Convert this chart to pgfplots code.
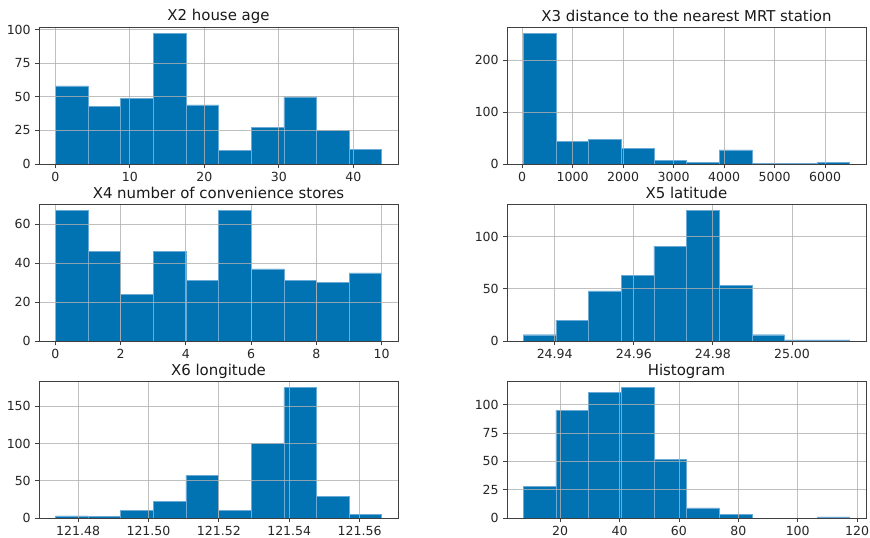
\documentclass[border=0pt]{standalone}
\usepackage{fontspec}
\setmainfont{DejaVu Sans}
\usepackage{pgfplots}
\pgfplotsset{compat=1.18}
\definecolor{barblue}{HTML}{0173B2}
\definecolor{baredge}{HTML}{6AAAD6}
\definecolor{gridc}{HTML}{B0B0B0}
\definecolor{spine}{HTML}{404040}
\pgfplotsset{
  hstyle/.style={
    scale only axis,
    width=269.25pt, height=102.75pt,
    anchor=south west,
    axis on top,
    grid=major,
    grid style={color=gridc, line width=0.6pt, opacity=0.8},
    axis line style={color=spine, line width=0.6pt},
    tick style={color=spine, line width=0.6pt},
    tick align=outside,
    major tick length=3.2pt,
    xtick pos=bottom, ytick pos=left,
    /pgf/number format/assume math mode=true,
    /pgf/number format/set thousands separator={},
    tick label style={font=\fontsize{9.4}{10}\selectfont, color=black!85},
    xticklabel style={yshift=0.5pt},
    yticklabel style={xshift=0.5pt},
    every axis title shift=0pt,
    title style={font=\fontsize{11.2}{12}\selectfont, color=black!90, at={(0.5,1)}, anchor=base, yshift=4.5pt, inner sep=0pt},
    ymin=0,
    scaled ticks=false,
  },
  hbar/.style={ybar interval, fill=barblue, draw=baredge, line width=0.3pt},
}
\begin{document}
\begin{tikzpicture}
\path[use as bounding box] (0pt,0pt) rectangle (652.5pt,402.75pt);
% X2 house age
\begin{axis}[hstyle, at={(29.25pt,279.75pt)}, title={X2 house age},
  xmin=-2.19, xmax=45.99, ymax=101.85,
  xtick={0,10,20,30,40}, ytick={0,25,50,75,100}]
\addplot[hbar] coordinates {(0,58) (4.38,43) (8.76,49) (13.14,97) (17.52,44) (21.90,10) (26.28,27) (30.66,50) (35.04,25) (39.42,11) (43.80,0)};
\end{axis}
% X3 distance
\begin{axis}[hstyle, at={(380.25pt,279.75pt)}, title={X3 distance to the nearest MRT station},
  xmin=-299.9, xmax=6811.3, ymax=263.6,
  xtick={0,1000,2000,3000,4000,5000,6000}, ytick={0,100,200}]
\addplot[hbar] coordinates {(23.38,252) (669.85,43) (1316.31,47) (1962.77,30) (2609.24,7) (3255.70,3) (3902.16,27) (4548.63,1) (5195.09,1) (5841.56,3) (6488.02,0)};
\end{axis}
% X4 convenience stores
\begin{axis}[hstyle, at={(29.25pt,147pt)}, title={X4 number of convenience stores},
  xmin=-0.5, xmax=10.5, ymax=70.35,
  xtick={0,2,4,6,8,10}, ytick={0,20,40,60}]
\addplot[hbar] coordinates {(0,67) (1,46) (2,24) (3,46) (4,31) (5,67) (6,37) (7,31) (8,30) (9,35) (10,0)};
\end{axis}
% X5 latitude
\begin{axis}[hstyle, at={(380.25pt,147pt)}, title={X5 latitude},
  xmin=24.92794, xmax=25.01872, ymax=131.25,
  xtick={24.94,24.96,24.98,25.00}, xticklabels={24.94,24.96,24.98,25.00}, ytick={0,50,100}]
\addplot[hbar] coordinates {(24.93207,6) (24.94032,20) (24.94858,48) (24.95683,63) (24.96508,91) (24.97333,125) (24.98159,53) (24.98984,6) (24.99809,1) (25.00634,1) (25.01459,0)};
\end{axis}
% X6 longitude
\begin{axis}[hstyle, at={(29.25pt,14.25pt)}, title={X6 longitude},
  xmin=121.46889, xmax=121.57091, ymax=183.75,
  xtick={121.48,121.50,121.52,121.54,121.56}, xticklabels={121.48,121.50,121.52,121.54,121.56}, ytick={0,50,100,150}]
\addplot[hbar] coordinates {(121.47353,3) (121.48280,2) (121.49208,10) (121.50135,22) (121.51063,57) (121.51990,10) (121.52917,100) (121.53845,175) (121.54772,29) (121.55700,5) (121.56627,0)};
\end{axis}
% Histogram
\begin{axis}[hstyle, at={(380.25pt,14.25pt)}, title={Histogram},
  xmin=2.105, xmax=122.995, ymax=120.75,
  xtick={20,40,60,80,100,120}, ytick={0,25,50,75,100}]
\addplot[hbar] coordinates {(7.6,28) (18.59,95) (29.58,111) (40.57,115) (51.56,52) (62.55,9) (73.54,3) (84.53,0) (95.52,0) (106.51,1) (117.5,0)};
\end{axis}
\end{tikzpicture}
\end{document}
